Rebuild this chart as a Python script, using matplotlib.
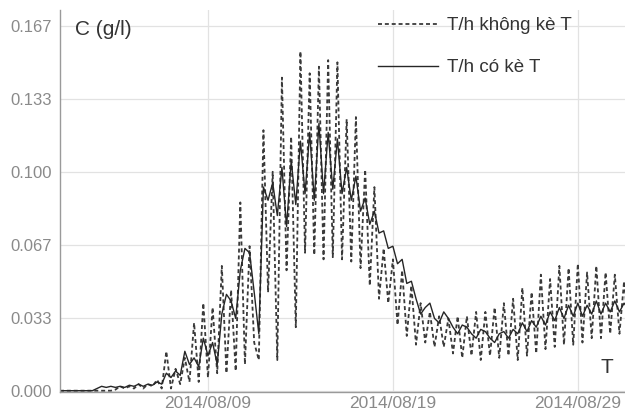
import datetime as dt
import matplotlib
matplotlib.use("Agg")
import matplotlib.pyplot as plt
import matplotlib.dates as mdates

# ---- data (6-hourly, starting 2014/08/01 00:00) ----
start = dt.datetime(2014, 8, 1)
step_hours = 6

# T/h không kè T (dashed)
dashed_vals = [
    0, 0, 0, 0,
    0, 0, 0, 0,
    0, 0, 0, 0,
    0.0005, 0.002, 0.001, 0.002,
    0.001, 0.003, 0.001, 0.003,
    0.002, 0.005, 0.001, 0.018,
    0.001, 0.010, 0.003, 0.015,
    0.004, 0.031, 0.004, 0.040,
    0.006, 0.038, 0.008, 0.057,
    0.008, 0.046, 0.009, 0.086,
    0.012, 0.066, 0.022, 0.014,
    0.119, 0.045, 0.100, 0.014,
    0.143, 0.055, 0.116, 0.029,
    0.155, 0.063, 0.145, 0.062,
    0.148, 0.060, 0.151, 0.061,
    0.150, 0.060, 0.124, 0.059,
    0.125, 0.056, 0.101, 0.048,
    0.093, 0.042, 0.065, 0.040,
    0.060, 0.030, 0.055, 0.025,
    0.048, 0.021, 0.040, 0.022,
    0.036, 0.020, 0.034, 0.020,
    0.033, 0.017, 0.034, 0.015,
    0.034, 0.016, 0.036, 0.014,
    0.036, 0.016, 0.038, 0.015,
    0.040, 0.016, 0.042, 0.014,
    0.047, 0.016, 0.045, 0.017,
    0.053, 0.019, 0.051, 0.020,
    0.057, 0.021, 0.056, 0.021,
    0.058, 0.022, 0.054, 0.024,
    0.057, 0.024, 0.054, 0.026,
    0.053, 0.026, 0.050, 0.027,
    0.048,
]

# T/h có kè T (solid)
solid_vals = [
    0, 0, 0, 0,
    0, 0, 0, 0,
    0.001, 0.002, 0.0015, 0.002,
    0.0015, 0.002, 0.0015, 0.0025,
    0.002, 0.003, 0.002, 0.003,
    0.0025, 0.004, 0.003, 0.008,
    0.006, 0.009, 0.007, 0.018,
    0.012, 0.015, 0.011, 0.024,
    0.016, 0.022, 0.012, 0.035,
    0.044, 0.041, 0.033, 0.055,
    0.065, 0.063, 0.045, 0.026,
    0.093, 0.087, 0.095, 0.080,
    0.102, 0.075, 0.105, 0.085,
    0.114, 0.090, 0.118, 0.087,
    0.122, 0.090, 0.118, 0.092,
    0.115, 0.090, 0.102, 0.087,
    0.098, 0.082, 0.088, 0.076,
    0.082, 0.072, 0.073, 0.065,
    0.066, 0.058, 0.060, 0.049,
    0.050, 0.042, 0.035, 0.038,
    0.040, 0.033, 0.031, 0.036,
    0.033, 0.029, 0.026, 0.030,
    0.029, 0.026, 0.024, 0.028,
    0.027, 0.024, 0.022, 0.026,
    0.027, 0.024, 0.028, 0.026,
    0.031, 0.027, 0.032, 0.029,
    0.034, 0.030, 0.036, 0.032,
    0.038, 0.033, 0.039, 0.034,
    0.040, 0.034, 0.039, 0.035,
    0.041, 0.035, 0.040, 0.036,
    0.041, 0.036, 0.040, 0.037,
    0.039,
]

y_ticks = [0.0, 0.1 / 3, 0.2 / 3, 0.1, 0.4 / 3, 0.5 / 3]
y_tick_labels = ["0.000", "0.033", "0.067", "0.100", "0.133", "0.167"]
x_ticks = [dt.datetime(2014, 8, 9), dt.datetime(2014, 8, 19), dt.datetime(2014, 8, 29)]

labels = ["T/h không kè T", "T/h có kè T"]

times_d = [start + dt.timedelta(hours=step_hours * i) for i in range(len(dashed_vals))]
times_s = [start + dt.timedelta(hours=step_hours * i) for i in range(len(solid_vals))]

plt.rcParams['font.family'] = ['Liberation Sans', 'DejaVu Sans']

fig = plt.figure(figsize=(6.25, 4.15), dpi=100)
ax = fig.add_axes([0.096, 0.0554, 0.904, 0.921])

ax.plot(times_d, dashed_vals, color="#3a3a3a", lw=1.3, linestyle=(0, (2.2, 1.6)),
        label=labels[0])
ax.plot(times_s, solid_vals, color="#262626", lw=1.0, linestyle="-", label=labels[1])

ax.set_xlim(start, start + dt.timedelta(days=30.55))
ax.set_ylim(-0.0006, 0.174)

ax.set_yticks(y_ticks)
ax.set_yticklabels(y_tick_labels)
ax.set_xticks(x_ticks)
ax.xaxis.set_major_formatter(mdates.DateFormatter("%Y/%m/%d"))

ax.grid(True, color="#e2e2e2", lw=0.9)
ax.set_axisbelow(True)
for s in ["top", "right"]:
    ax.spines[s].set_visible(False)
for s in ["left", "bottom"]:
    ax.spines[s].set_color("#9a9a9a")
    ax.spines[s].set_linewidth(1.0)

ax.tick_params(axis="both", length=0, colors="#8a8a8a")
ax.tick_params(axis="y", pad=5.5, labelsize=12)
ax.tick_params(axis="x", pad=3, labelsize=12.5)

ax.text(0.027, 0.972, "C (g/l)", transform=ax.transAxes, fontsize=15,
        color="#333333", va="top", ha="left")
ax.text(0.968, 0.063, "T", transform=ax.transAxes, fontsize=15,
        color="#333333", va="center", ha="center")

leg = ax.legend(loc="upper left", bbox_to_anchor=(0.549, 1.0), frameon=False,
                fontsize=13.5, handlelength=3.2, handletextpad=0.5,
                labelspacing=1.32, borderaxespad=0)
for t in leg.get_texts():
    t.set_color("#333333")

fig.savefig("out.png", dpi=100)
